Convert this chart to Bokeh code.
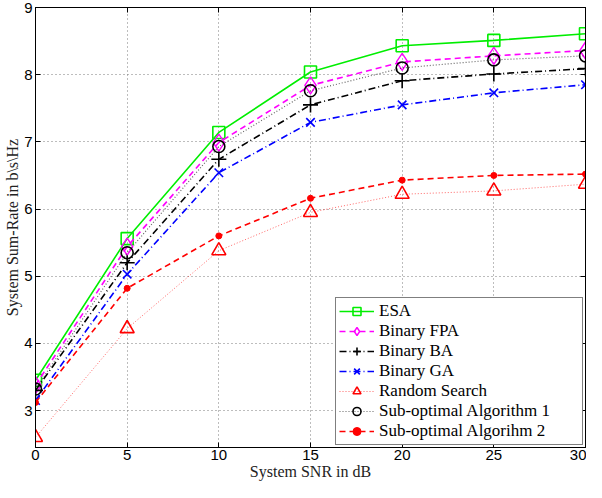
from bokeh.plotting import figure
from bokeh.models import Range1d, LinearAxis, Legend, LegendItem, FixedTicker
from bokeh.embed import file_html
from bokeh.resources import INLINE

snr = [0, 5, 10, 15, 20, 25, 30]
esa = [3.45, 5.56, 7.14, 8.04, 8.43, 8.51, 8.61]
fpa = [3.38, 5.44, 6.99, 7.84, 8.19, 8.28, 8.36]
ba = [3.30, 5.20, 6.74, 7.55, 7.91, 8.01, 8.09]
ga = [3.15, 5.03, 6.54, 7.29, 7.55, 7.73, 7.85]
rs = [2.60, 4.22, 5.38, 5.95, 6.22, 6.27, 6.37]
sub1 = [3.32, 5.35, 6.93, 7.76, 8.10, 8.22, 8.28]
sub2 = [3.12, 4.82, 5.60, 6.16, 6.43, 6.50, 6.52]

x_ticks = [0, 5, 10, 15, 20, 25, 30]
y_ticks = [3, 4, 5, 6, 7, 8, 9]
x_label = "System SNR in dB"
y_label = "System Sum-Rate in b\\s\\Hz"

p = figure(width=586, height=482, output_backend="svg", toolbar_location=None,
           x_range=Range1d(0, 30), y_range=Range1d(2.45, 9),
           min_border_left=35, min_border_right=1, min_border_top=7, min_border_bottom=0)
p.background_fill_color = "white"
p.border_fill_color = "white"
p.outline_line_color = "black"
p.outline_line_width = 1

for ax in p.xaxis + p.yaxis:
    ax.axis_line_color = "black"
    ax.major_tick_in = 5
    ax.major_tick_out = 0
    ax.minor_tick_line_color = None
    ax.major_label_text_font = "Liberation Sans"
    ax.major_label_text_font_size = "15px"
    ax.major_label_text_color = "black"
    ax.major_label_standoff = 3
    ax.axis_label_text_font = "Liberation Serif"
    ax.axis_label_text_font_size = "16px"
    ax.axis_label_text_font_style = "normal"
    ax.axis_label_text_color = "#222222"
    ax.axis_label_standoff = 0
p.xaxis.ticker = FixedTicker(ticks=x_ticks)
p.yaxis.ticker = FixedTicker(ticks=y_ticks)
p.xaxis.axis_label = x_label
p.yaxis.axis_label = y_label
p.xaxis.major_label_standoff = 2

right = LinearAxis(ticker=FixedTicker(ticks=y_ticks), major_label_text_font_size="1px",
                   major_label_text_color=None,
                   major_tick_in=5, major_tick_out=0, minor_tick_line_color=None,
                   major_label_standoff=0, axis_line_color="black")
top = LinearAxis(ticker=FixedTicker(ticks=x_ticks), major_label_text_font_size="1px",
                 major_label_text_color=None,
                 major_tick_in=5, major_tick_out=0, minor_tick_line_color=None,
                 major_label_standoff=0, axis_line_color="black")
p.add_layout(right, "right")
p.add_layout(top, "above")

for g in [p.xgrid[0], p.ygrid[0]]:
    g.grid_line_color = "#7a7a7a"
    g.grid_line_dash = "1 3"
    g.grid_line_width = 1
p.xgrid.ticker = FixedTicker(ticks=x_ticks)
p.ygrid.ticker = FixedTicker(ticks=y_ticks)

items = []

l = p.line(snr, esa, line_color="#00ee00", line_width=1.6)
m = p.scatter(snr, esa, marker="square", size=12, line_color="#00ee00", fill_color=None, line_width=1.6)
items.append(LegendItem(label="ESA", renderers=[l, m]))

l = p.line(snr, fpa, line_color="#ff00ff", line_width=1.6, line_dash="6 4")
m = p.scatter(snr, fpa, marker="diamond", size=17, line_color="#ff00ff", fill_color=None, line_width=1.4)
items.append(LegendItem(label="Binary FPA", renderers=[l, m]))

l = p.line(snr, ba, line_color="black", line_width=1.6, line_dash="7 3 1 3")
m = p.scatter(snr, ba, marker="cross", size=15, line_color="black", line_width=1.6)
items.append(LegendItem(label="Binary BA", renderers=[l, m]))

l = p.line(snr, ga, line_color="blue", line_width=1.6, line_dash="7 3 1 3")
m = p.scatter(snr, ga, marker="x", size=12, line_color="blue", line_width=1.6)
items.append(LegendItem(label="Binary GA", renderers=[l, m]))

l = p.line(snr, rs, line_color="red", line_width=1.0, line_dash="1 2", line_alpha=0.6)
m = p.scatter(snr, rs, marker="triangle", size=14, line_color="red", fill_color=None, line_width=1.6)
items.append(LegendItem(label="Random Search", renderers=[l, m]))

l = p.line(snr, sub1, line_color="black", line_width=1.2, line_dash="1 2", line_alpha=0.6)
m = p.scatter(snr, sub1, marker="circle", size=12, line_color="black", fill_color=None, line_width=1.6)
items.append(LegendItem(label="Sub-optimal Algorithm 1", renderers=[l, m]))

l = p.line(snr, sub2, line_color="red", line_width=1.6, line_dash="6 4")
m = p.scatter(snr, sub2, marker="circle", size=6, line_color="red", fill_color="red")
items.append(LegendItem(label="Sub-optimal Algorihm 2", renderers=[l, m]))

legend = Legend(items=items, location="bottom_right")
legend.border_line_color = "black"
legend.border_line_width = 1
legend.background_fill_color = "white"
legend.background_fill_alpha = 1
legend.label_text_font = "Liberation Serif"
legend.label_text_font_size = "17px"
legend.label_text_color = "black"
legend.glyph_width = 35
legend.glyph_height = 20
legend.label_height = 20
legend.label_width = 200
legend.label_standoff = 5
legend.spacing = 0
legend.padding = 3
legend.margin = 2
p.add_layout(legend)

open("out.html", "w").write(file_html(p, INLINE))
